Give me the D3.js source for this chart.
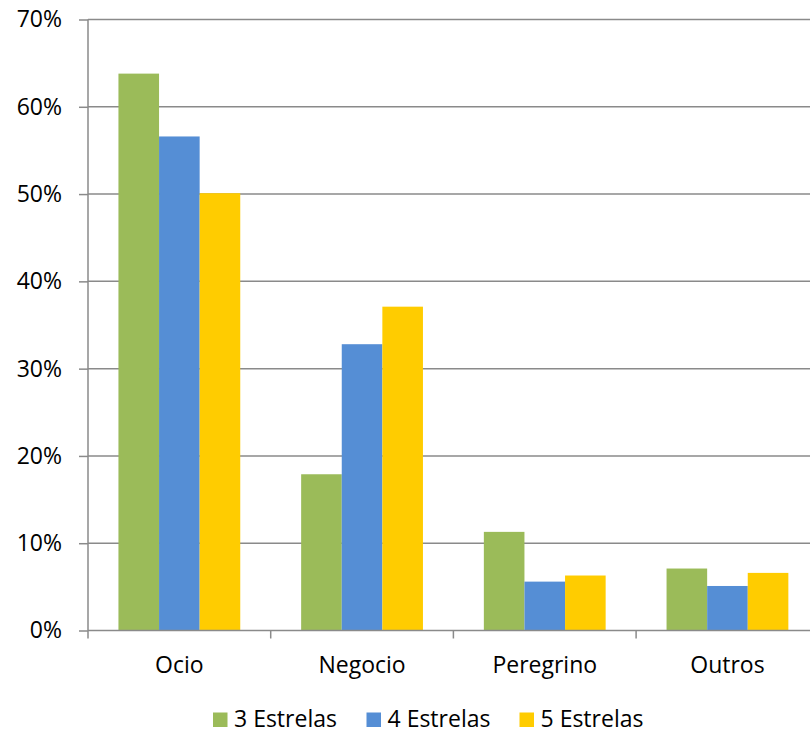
<!DOCTYPE html>
<html>
<head>
<meta charset="utf-8">
<script src="https://cdn.jsdelivr.net/npm/d3@7"></script>
<style>
  html, body { margin: 0; padding: 0; background: #fff; }
  svg { display: block; font-family: "Open Sans", sans-serif; }
</style>
</head>
<body>
<svg id="chart" width="810" height="733"></svg>
<script>
const categories = ["Ocio", "Negocio", "Peregrino", "Outros"];
const seriesNames = ["3 Estrelas", "4 Estrelas", "5 Estrelas"];
const estrelas3 = [63.8, 17.9, 11.3, 7.1];
const estrelas4 = [56.6, 32.8, 5.6, 5.1];
const estrelas5 = [50.1, 37.1, 6.3, 6.6];
const seriesColors = ["#9BBB59", "#558ED5", "#FFCC00"];
const yTicks = [0, 10, 20, 30, 40, 50, 60, 70];

(function () {
const series = [estrelas3, estrelas4, estrelas5];
const svg = d3.select("#chart");
const fs = 23;

const pLeft = 88, pRight = 818.8, pTop = 19.5, pBottom = 630.5;

const x0 = d3.scaleBand().domain(categories).range([pLeft, pRight]).paddingInner(0).paddingOuter(0);
// Excel gap width 150%: each category = 3 bars + 1.5 bar widths of gap
const x1 = d3.scaleBand().domain(seriesNames).range([0, x0.bandwidth()]).paddingInner(0).paddingOuter(0.75);
const y = d3.scaleLinear().domain([0, 70]).range([pBottom, pTop]);
const gridColor = "#8a8a8a";

// gridlines
svg.append("g").selectAll("line").data(yTicks.filter(d => d > 0)).join("line")
  .attr("x1", pLeft).attr("x2", pRight)
  .attr("y1", d => y(d)).attr("y2", d => y(d))
  .attr("stroke", gridColor).attr("stroke-width", 1.5);

// bars
const groups = svg.append("g").selectAll("g").data(categories).join("g")
  .attr("transform", c => `translate(${x0(c)},0)`);
groups.selectAll("rect").data((c, i) => series.map((s, j) => ({ v: s[i], name: seriesNames[j], j })))
  .join("rect")
  .attr("x", d => x1(d.name))
  .attr("width", x1.bandwidth())
  .attr("y", d => y(d.v))
  .attr("height", d => y(0) - y(d.v))
  .attr("fill", d => seriesColors[d.j]);

// y axis
const yAxis = d3.axisLeft(y).tickValues(yTicks).tickFormat(d => d + "%").tickSize(9).tickPadding(17);
const gy = svg.append("g").attr("transform", `translate(${pLeft},0)`).call(yAxis);
gy.select(".domain").attr("stroke", gridColor).attr("stroke-width", 1.5).attr("d", `M0,${pTop}V${pBottom}`);
gy.selectAll(".tick line").attr("stroke", gridColor).attr("stroke-width", 1.5);
gy.selectAll(".tick text").attr("font-size", fs).attr("fill", "#000").attr("font-family", "Open Sans");

// x axis
const xAxis = d3.axisBottom(x0).tickSize(0).tickPadding(0);
const gx = svg.append("g").attr("transform", `translate(0,${pBottom})`).call(xAxis);
gx.select(".domain").attr("stroke", gridColor).attr("stroke-width", 1.5).attr("d", `M${pLeft},0H${pRight}`);
gx.selectAll(".tick text").attr("font-size", fs).attr("fill", "#000").attr("font-family", "Open Sans")
  .attr("dy", null).attr("y", 42.5);
// category boundary ticks
svg.append("g").selectAll("line").data(d3.range(categories.length + 1)).join("line")
  .attr("x1", i => pLeft + i * x0.bandwidth()).attr("x2", i => pLeft + i * x0.bandwidth())
  .attr("y1", pBottom).attr("y2", pBottom + 8)
  .attr("stroke", gridColor).attr("stroke-width", 1.5);

// legend
const legendX = [213, 366.5, 519.5];
const lg = svg.append("g").selectAll("g").data(seriesNames).join("g")
  .attr("transform", (d, i) => `translate(${legendX[i]},712.5)`);
lg.append("rect").attr("width", 14.5).attr("height", 14.5).attr("fill", (d, i) => seriesColors[i]);
lg.append("text").attr("x", 21).attr("y", 14.5).attr("font-size", fs).attr("fill", "#000")
  .attr("font-family", "Open Sans").text(d => d);
})();
</script>
</body>
</html>
